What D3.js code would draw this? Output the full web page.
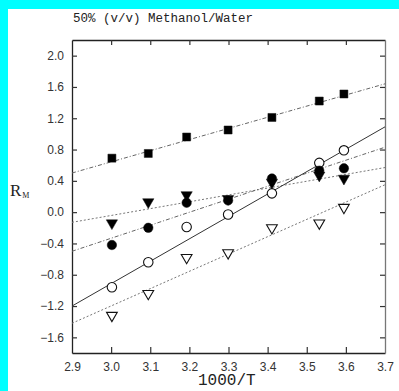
<!DOCTYPE html>
<html>
<head>
<meta charset="utf-8">
<script src="https://cdn.jsdelivr.net/npm/d3@7"></script>
<style>
  body { margin: 0; background: #00ffff; }
  #vis { position: absolute; left: 8px; top: 9px; width: 391px; height: 382px; background: #fff; }
</style>
</head>
<body>
<div id="vis"></div>
<script>
// 1000/T values (60,50,40,30,20,10,5 C)
var xVals = [3.002, 3.095, 3.193, 3.299, 3.411, 3.532, 3.595];
var squares = [0.69, 0.75, 0.96, 1.05, 1.21, 1.42, 1.51];
var filledTri = [-0.14, 0.13, 0.22, 0.17, 0.38, 0.47, 0.43];
var filledCirc = [-0.42, -0.20, 0.12, 0.15, 0.43, 0.53, 0.56];
var openCirc = [-0.96, -0.64, -0.19, -0.03, 0.24, 0.63, 0.79];
var openTri = [-1.32, -1.04, -0.58, -0.52, -0.20, -0.14, 0.06];
// fitted lines: R_M at 1000/T = 2.9 and 3.7
var lineX = [2.9, 3.7];
var squareFit = [0.50, 1.64];
var filledTriFit = [-0.13, 0.57];
var filledCircFit = [-0.50, 0.83];
var openCircFit = [-1.20, 1.09];
var openTriFit = [-1.42, 0.35];
var xTicks = [2.9, 3.0, 3.1, 3.2, 3.3, 3.4, 3.5, 3.6, 3.7];
var yTicks = [2.0, 1.6, 1.2, 0.8, 0.4, 0.0, -0.4, -0.8, -1.2, -1.6];

// offsets are relative to the white panel (page minus 8,9)
var margin = {left: 64, top: 31, right: 14, bottom: 38};
var W = 391, H = 382;
var width = W - margin.left - margin.right;
var height = H - margin.top - margin.bottom;

var svg = d3.select("#vis").append("svg")
  .attr("width", W).attr("height", H);
var g = svg.append("g")
  .attr("transform", "translate(" + margin.left + "," + margin.top + ")");

var x = d3.scaleLinear().domain([2.9, 3.7]).range([0, width]);
var y = d3.scaleLinear().domain([-1.8, 2.2]).range([height, 0]);

// axes, ticks pointing inward
var fmt = function(d) { return d.toFixed(1).replace("-", "\u2212"); };
var ax = g.append("g").attr("transform", "translate(0," + height + ")")
  .call(d3.axisBottom(x).tickValues(xTicks).tickSizeInner(-6).tickSizeOuter(0).tickPadding(9).tickFormat(fmt));
var axTop = g.append("g")
  .call(d3.axisTop(x).tickValues(xTicks.slice(1, -1)).tickSizeInner(-5).tickSizeOuter(0).tickFormat(""));
var ay = g.append("g")
  .call(d3.axisLeft(y).tickValues(yTicks).tickSizeInner(-5).tickSizeOuter(0).tickPadding(8).tickFormat(fmt));
var ayR = g.append("g").attr("transform", "translate(" + width + ",0)")
  .call(d3.axisRight(y).tickValues(yTicks).tickSizeInner(-5).tickSizeOuter(0).tickFormat(""));

[ax, axTop, ay, ayR].forEach(function(a) {
  a.select(".domain").attr("stroke", "#222").attr("stroke-width", 1.3);
  a.selectAll(".tick line").attr("stroke", "#333").attr("stroke-width", 1.2);
  a.selectAll("text").attr("font-family", "Liberation Sans, Arial, sans-serif")
    .attr("font-size", 12).attr("fill", "#333");
});
ayR.select(".domain").attr("stroke", "#777");
// no inner tick marks at the axis ends
ax.selectAll(".tick line").filter(function(d) { return d === 2.9 || d === 3.7; }).remove();

// fit lines
var line = d3.line().x(function(d) { return x(d[0]); }).y(function(d) { return y(d[1]); });
var fits = [
  {v: squareFit, dash: "4,2,1,2", col: "#666"},
  {v: filledTriFit, dash: "2,2", col: "#777"},
  {v: filledCircFit, dash: "4,2,1,2", col: "#666"},
  {v: openCircFit, dash: null, col: "#333"},
  {v: openTriFit, dash: "2,2", col: "#777"}
];
fits.forEach(function(f) {
  g.append("path")
    .attr("d", line(lineX.map(function(xx, i) { return [xx, f.v[i]]; })))
    .attr("fill", "none")
    .attr("stroke", f.col)
    .attr("stroke-width", 1)
    .attr("stroke-dasharray", f.dash);
});

// markers
function addSeries(vals, type, filled, size) {
  var sym = d3.symbol().type(type).size(size);
  g.selectAll(null)
    .data(vals.map(function(v, i) { return [xVals[i], v]; }))
    .enter().append("path")
    .attr("d", sym)
    .attr("transform", function(d) {
      var rot = (type === d3.symbolTriangle) ? " rotate(180)" : "";
      return "translate(" + x(d[0]) + "," + y(d[1]) + ")" + rot;
    })
    .attr("fill", filled ? "#000" : "#fff")
    .attr("stroke", "#111")
    .attr("stroke-width", filled ? 0.5 : 1.1);
}
addSeries(openTri, d3.symbolTriangle, false, 50);
addSeries(openCirc, d3.symbolCircle, false, 70);
addSeries(filledTri, d3.symbolTriangle, true, 55);
addSeries(filledCirc, d3.symbolCircle, true, 70);
addSeries(squares, d3.symbolSquare, true, 64);

// title and axis labels
svg.append("text")
  .attr("x", 65).attr("y", 13)
  .attr("font-family", "Liberation Mono, Courier New, monospace")
  .attr("font-size", 12.5).attr("fill", "#222")
  .text("50% (v/v) Methanol/Water");

var rl = svg.append("text")
  .attr("x", 2).attr("y", 187)
  .attr("font-family", "Liberation Serif, serif")
  .attr("font-size", 17).attr("fill", "#222");
rl.append("tspan").text("R");
rl.append("tspan").attr("font-size", 8).attr("dx", 1).attr("dy", 2).text("M");

svg.append("text")
  .attr("x", 190).attr("y", 376)
  .attr("font-family", "Liberation Mono, Courier New, monospace")
  .attr("font-size", 16).attr("fill", "#222")
  .text("1000/T");
</script>
</body>
</html>
